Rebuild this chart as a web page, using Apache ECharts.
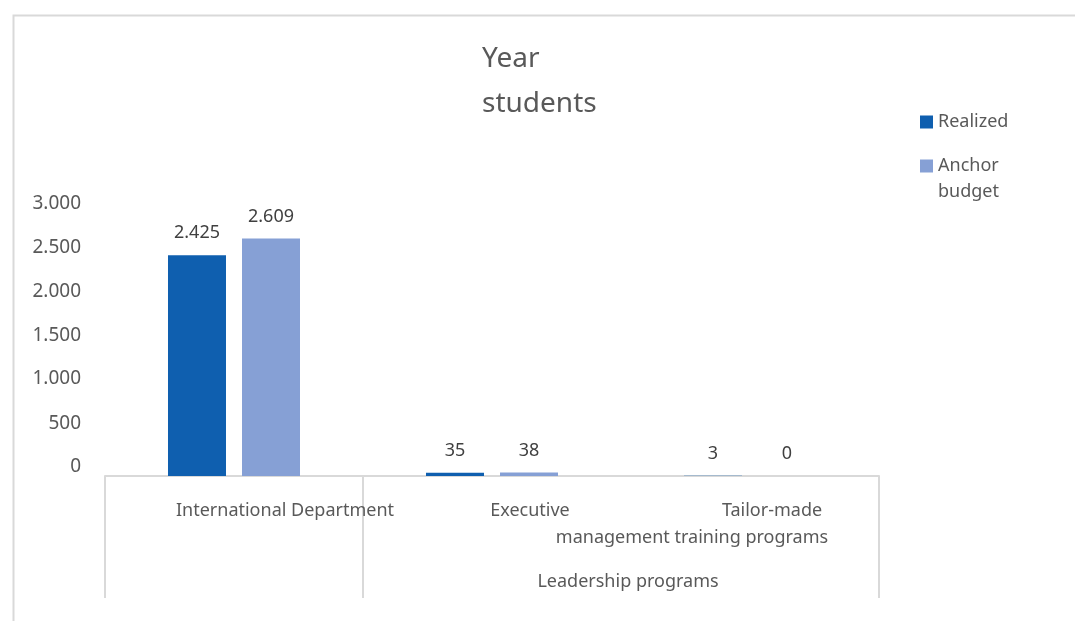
<!DOCTYPE html>
<html>
<head>
<meta charset="utf-8">
<script src="https://cdn.jsdelivr.net/npm/echarts@6/dist/echarts.min.js"></script>
<style>
  html, body { margin: 0; padding: 0; background: #ffffff; }
  #chart { width: 1075px; height: 621px; }
</style>
</head>
<body>
<div id="chart"></div>
<script>
// Categories on the axis; the last two belong to one group
const categories = ['International Department', 'Executive', 'Tailor-made management training programs'];
const groupLabel = 'Leadership programs';
const groupMembers = [1, 2];

// Series values (number of students)
const realized = [2425, 35, 3];
const anchorBudget = [2609, 38, 0];

// Value axis
const yMin = 0;
const yMax = 3000;
const yInterval = 500;

const FONT = 'Noto Sans';
const TEXT_GREY = '#595959';
const LINE_GREY = '#D9D9D9';

function thousands(v) {
  return String(v).replace(/\B(?=(\d{3})+(?!\d))/g, '.');
}

// Value labels ride a little above their ticks, increasingly so toward the baseline
const yRich = {};
for (let v = yMin; v <= yMax; v += yInterval) {
  const lift = Math.round(9 - 10 * (v - yMin) / (yMax - yMin));
  yRich['v' + v] = {
    fontFamily: FONT, fontSize: 19, color: TEXT_GREY,
    padding: lift >= 0 ? [0, 0, 2 * lift, 0] : [-2 * lift, 0, 0, 0]
  };
}

const chart = echarts.init(document.getElementById('chart'), null, { renderer: 'canvas' });

const option = {
  animation: false,
  backgroundColor: '#ffffff',
  textStyle: { fontFamily: FONT },
  title: {
    text: 'Year\nstudents',
    left: 477,
    top: 32,
    textAlign: 'left',
    textStyle: { fontFamily: FONT, fontSize: 28, fontWeight: 'normal', color: TEXT_GREY, lineHeight: 45 }
  },
  legend: [
    {
      data: ['Realized'],
      orient: 'vertical',
      left: 920,
      top: 109,
      padding: 0,
      itemWidth: 13,
      itemHeight: 13,
      icon: 'rect',
      textStyle: { fontFamily: FONT, fontSize: 18, color: TEXT_GREY, lineHeight: 26 }
    },
    {
      data: ['Anchor budget'],
      orient: 'vertical',
      left: 920,
      top: 127,
      padding: 0,
      itemWidth: 13,
      itemHeight: 13,
      icon: 'rect',
      // wrapped name; the blank first line keeps "Anchor" level with the swatch
      formatter: function (name) { return '\n' + name.replace(' ', '\n'); },
      textStyle: { fontFamily: FONT, fontSize: 18, color: TEXT_GREY, lineHeight: 26 }
    }
  ],
  grid: { left: 105, right: 196, top: 203, bottom: 145, containLabel: false },
  xAxis: {
    type: 'category',
    data: categories,
    boundaryGap: true,
    axisLine: { show: true, lineStyle: { color: LINE_GREY, width: 2 } },
    axisTick: {
      show: true,
      length: 122,
      // separators only around the ungrouped category and the group
      interval: function (index) { return index <= 1; },
      lineStyle: { color: LINE_GREY, width: 2 }
    },
    axisLabel: {
      interval: 0,
      margin: 21,
      verticalAlign: 'top',
      color: TEXT_GREY,
      fontFamily: FONT,
      fontSize: 18,
      lineHeight: 27,
      formatter: function (value, index) {
        if (index === 0) return '{a|' + value + '}';
        if (index === 1) return '{b|' + value + '}';
        const words = value.split(' ');
        return '{c|' + words[0] + '}\n{d|' + words.slice(1).join(' ') + '}';
      },
      rich: {
        a: { fontFamily: FONT, fontSize: 18, color: TEXT_GREY, lineHeight: 27, padding: [0, 0, 0, 102] },
        b: { fontFamily: FONT, fontSize: 18, color: TEXT_GREY, lineHeight: 27, padding: [0, 0, 0, 76] },
        c: { fontFamily: FONT, fontSize: 18, color: TEXT_GREY, lineHeight: 27, padding: [0, 0, 0, 44] },
        d: { fontFamily: FONT, fontSize: 18, color: TEXT_GREY, lineHeight: 27, padding: [0, 116, 0, 0] }
      }
    },
    splitLine: { show: false }
  },
  yAxis: {
    type: 'value',
    min: yMin,
    max: yMax,
    interval: yInterval,
    axisLine: { show: false },
    axisTick: { show: false },
    splitLine: { show: false },
    axisLabel: {
      margin: 24,
      color: TEXT_GREY,
      fontFamily: FONT,
      fontSize: 19,
      formatter: function (v) { return '{v' + v + '|' + thousands(v) + '}'; },
      rich: yRich
    }
  },
  series: [
    {
      name: 'Realized',
      type: 'bar',
      data: realized,
      barWidth: 58,
      barGap: '27.6%',
      itemStyle: { color: '#0F5FAF' },
      label: {
        show: true,
        position: 'top',
        distance: 10,
        fontFamily: FONT,
        fontSize: 18,
        lineHeight: 24,
        color: '#404040',
        formatter: function (p) { return thousands(p.value); }
      }
    },
    {
      name: 'Anchor budget',
      type: 'bar',
      data: anchorBudget,
      barWidth: 58,
      itemStyle: { color: '#86A0D5' },
      label: {
        show: true,
        position: 'top',
        distance: 10,
        fontFamily: FONT,
        fontSize: 18,
        lineHeight: 24,
        color: '#404040',
        formatter: function (p) { return thousands(p.value); }
      }
    }
  ]
};

chart.setOption(option);

// Group label centred under its member categories, plus the chart frame
const xs = groupMembers.map(function (i) { return chart.convertToPixel({ xAxisIndex: 0 }, categories[i]); });
const groupCenter = (xs[0] + xs[xs.length - 1]) / 2;
const axisY = chart.convertToPixel({ yAxisIndex: 0 }, yMin);

chart.setOption({
  graphic: [
    {
      type: 'rect',
      left: 11,
      top: 13,
      shape: { x: 0, y: 0, width: 1100, height: 700 },
      style: { fill: null, stroke: LINE_GREY, lineWidth: 2 },
      silent: true,
      z: -1
    },
    {
      type: 'text',
      x: groupCenter + 7,
      y: axisY + 106,
      style: {
        text: groupLabel,
        fontFamily: FONT,
        fontSize: 18,
        fill: TEXT_GREY,
        align: 'center',
        verticalAlign: 'middle'
      }
    }
  ]
});
</script>
</body>
</html>
